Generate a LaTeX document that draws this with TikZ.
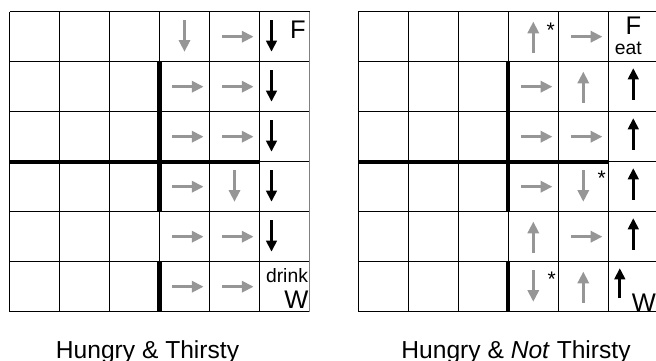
\documentclass[tikz,border=0pt]{standalone}
\usepackage{fontspec}
\setmainfont{Liberation Sans}
\usetikzlibrary{arrows.meta}
\definecolor{movegray}{RGB}{150, 150, 150}
\definecolor{edgegray}{RGB}{128, 128, 128}

\begin{document}
\begin{tikzpicture}[
  cellline/.style={line width=0.6pt},
  wall/.style={line width=2.4pt},
  move/.style={-{Triangle[length=6.6pt, width=6.4pt]}, line width=1.4pt, movegray},
  policy/.style={-{Triangle[length=6.3pt, width=6pt]}, line width=1.5pt, black},
  goal/.style={font=\fontsize{14.5}{16}\selectfont, anchor=base, inner sep=0pt},
  act/.style={font=\fontsize{11}{13}\selectfont, anchor=base, inner sep=0pt},
  star/.style={font=\fontsize{12}{14}\selectfont, anchor=north, inner sep=0pt},
  title/.style={font=\fontsize{14}{16}\selectfont, anchor=base, inner sep=0pt}
]
  \useasboundingbox (0,0) rectangle (13.12,7.22);

  % Hungry & Thirsty
  \begin{scope}[shift={(0.19,0.986)}]
    \draw[cellline] (0,0) grid (6,6);
    \draw[cellline, edgegray] (6,0) -- (6,6);
    \draw[wall] (3,5) -- (3,2) (0,3) -- (5,3) (3,1) -- (3,0);
    \foreach \c/\r in {4/0, 3/1, 4/1, 3/2, 4/2, 3/3, 3/4, 4/4, 3/5, 4/5}
      \draw[move] (\c+0.25,5.5-\r) -- (\c+0.88,5.5-\r);
    \foreach \c/\r in {3/0, 4/3}
      \draw[move] (\c+0.5,5.83-\r) -- (\c+0.5,5.2-\r);
    \foreach \r in {0,...,4}
      \draw[policy] (5.24,5.83-\r) -- (5.24,5.2-\r);
    \node[goal] (foodA) at (5.77,5.47) {F};
    \node[act] (drinkA) at (5.55,0.58) {drink};
    \node[goal] (waterA) at (5.74,0.07) {W};
  \end{scope}

  % Hungry & Not Thirsty
  \begin{scope}[shift={(7.166,0.986)}]
    \draw[cellline] (0,0) grid (6,6);
    \draw[wall] (3,5) -- (3,2) (0,3) -- (5,3) (3,1) -- (3,0);
    \foreach \c/\r in {4/0, 3/1, 3/2, 4/2, 3/3, 4/4}
      \draw[move] (\c+0.25,5.5-\r) -- (\c+0.88,5.5-\r);
    \foreach \c/\r in {3/0, 4/1, 3/4, 4/5}
      \draw[move] (\c+0.5,5.17-\r) -- (\c+0.5,5.8-\r);
    \foreach \c/\r in {4/3, 3/5}
      \draw[move] (\c+0.5,5.83-\r) -- (\c+0.5,5.2-\r);
    \foreach \r in {1,...,4}
      \draw[policy] (5.5,5.24-\r) -- (5.5,5.87-\r);
    \draw[policy] (5.23,0.27) -- (5.23,0.87);
    \node[star] (starA) at (3.85,5.78) {*};
    \node[star] (starB) at (4.87,2.82) {*};
    \node[star] (starC) at (3.87,0.8) {*};
    \node[goal] (foodB) at (5.5,5.54) {F};
    \node[act] (eatB) at (5.4,5.14) {eat};
    \node[goal] (waterB) at (5.71,0.01) {W};
  \end{scope}

  % Captions
  \node[title] (titleA) at (2.95,0.054) {Hungry \& Thirsty};
  \node[title] (titleB) at (10.32,0.054) {Hungry \& \textit{Not} Thirsty};

\end{tikzpicture}
\end{document}
